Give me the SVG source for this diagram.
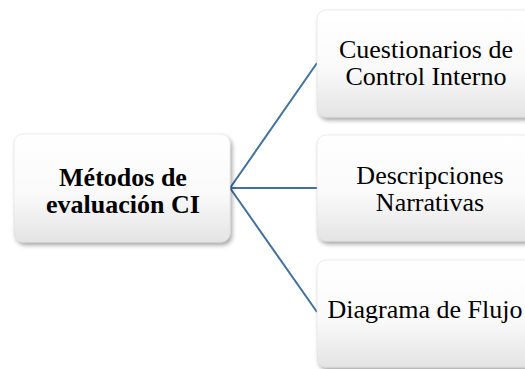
<svg xmlns="http://www.w3.org/2000/svg" width="525" height="369" viewBox="0 0 525 369">
<defs>
<linearGradient id="g" x1="0" y1="0" x2="0" y2="1">
<stop offset="0" stop-color="#ffffff"/>
<stop offset="0.55" stop-color="#fafafa"/>
<stop offset="1" stop-color="#e4e4e4"/>
</linearGradient>
<filter id="sh" x="-10%" y="-10%" width="125%" height="130%">
<feDropShadow dx="2" dy="3" stdDeviation="2" flood-color="#000" flood-opacity="0.35"/>
</filter>
</defs>
<style>
.box{fill:url(#g);stroke:#d8d8d8;stroke-width:0.5;filter:url(#sh)}
.t{font-family:"Liberation Serif","Times New Roman",serif;font-size:26px;fill:#000;text-anchor:middle}
.b{font-weight:bold}
.c{stroke:#41719c;stroke-width:2;fill:none}
</style>
<g id="connectors">
<line class="c" x1="230" y1="188" x2="317" y2="63"/>
<line class="c" x1="230" y1="188" x2="317" y2="188"/>
<line class="c" x1="230" y1="188" x2="317" y2="312"/>
</g>
<g id="node-metodos">
<rect class="box" x="14" y="134" width="216" height="108" rx="9"/>
<text class="t b" x="123" y="186">Métodos de</text>
<text class="t b" x="123" y="213">evaluación CI</text>
</g>
<g id="node-cuestionarios">
<rect class="box" x="317" y="10" width="216" height="107" rx="9"/>
<text class="t" x="426" y="58">Cuestionarios de</text>
<text class="t" x="426" y="85">Control Interno</text>
</g>
<g id="node-descripciones">
<rect class="box" x="317" y="135" width="216" height="106" rx="9"/>
<text class="t" x="430" y="184">Descripciones</text>
<text class="t" x="430" y="211">Narrativas</text>
</g>
<g id="node-diagrama">
<rect class="box" x="317" y="260" width="216" height="107" rx="9"/>
<text class="t" x="425" y="318">Diagrama de Flujo</text>
</g>
</svg>
